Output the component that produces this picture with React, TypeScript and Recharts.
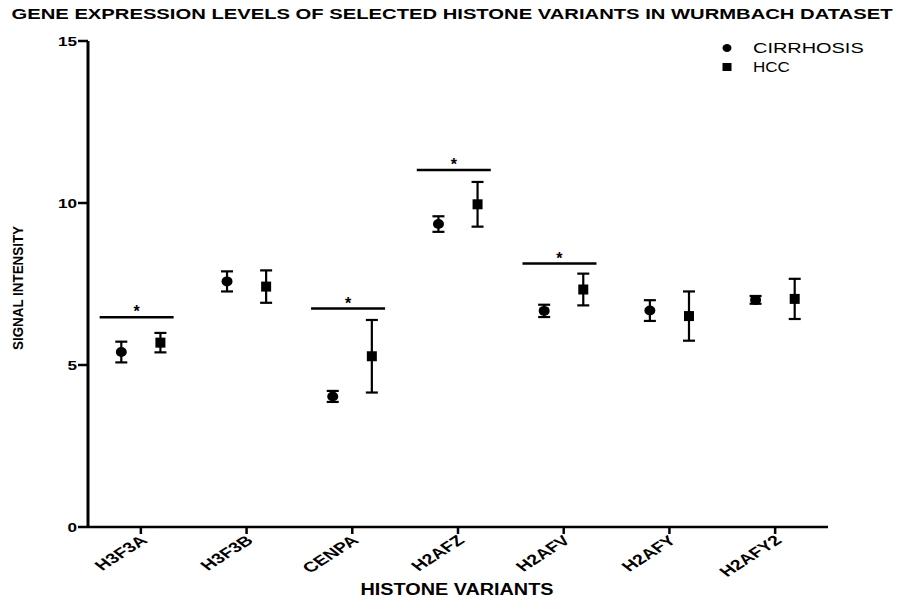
import React from 'react';
import { ComposedChart, Scatter, ErrorBar, XAxis, YAxis, ReferenceLine } from 'recharts';

const CATEGORIES = ['H3F3A', 'H3F3B', 'CENPA', 'H2AFZ', 'H2AFV', 'H2AFY', 'H2AFY2'];
const SERIES_NAMES = ['CIRRHOSIS', 'HCC'];
const CIRRHOSIS_MEAN = [5.4, 7.58, 4.03, 9.35, 6.67, 6.68, 7.01];
const CIRRHOSIS_ERR = [0.32, 0.31, 0.17, 0.24, 0.19, 0.32, 0.12];
const HCC_MEAN = [5.69, 7.42, 5.27, 9.96, 7.33, 6.51, 7.04];
const HCC_ERR = [0.3, 0.5, 1.12, 0.69, 0.49, 0.76, 0.62];
const SIG_CATEGORIES = ['H3F3A', 'CENPA', 'H2AFZ', 'H2AFV'];
const SIG_LEVELS = [6.47, 6.74, 11.02, 8.13];
const Y_TICKS = [0, 5, 10, 15];

const FONT = '"Liberation Sans", Arial, sans-serif';
const STRETCH = 1.32;

const cirrhosisData = CATEGORIES.map((c, i) => ({ x: i + 0.315, y: CIRRHOSIS_MEAN[i], err: CIRRHOSIS_ERR[i] }));
const hccData = CATEGORIES.map((c, i) => ({ x: i + 0.685, y: HCC_MEAN[i], err: HCC_ERR[i] }));
const xTicks = CATEGORIES.map((c, i) => i + 0.5);

const XTick = (props: any) => {
  const { x, y, payload } = props;
  const label = CATEGORIES[Math.floor(payload.value)];
  return (
    <g transform={`translate(${x + 3},${y + 2}) scale(1.4,1) rotate(-42)`}>
      <text x={0} y={0} dy="0.35em" textAnchor="end" fontFamily={FONT} fontWeight="bold" fontSize={14} fill="#000">
        {label}
      </text>
    </g>
  );
};

const YTick = (props: any) => {
  const { x, y, payload } = props;
  return (
    <g transform={`translate(${x + 1},${y}) scale(${STRETCH},1)`}>
      <text x={0} y={0} dy="0.35em" textAnchor="end" fontFamily={FONT} fontWeight="bold" fontSize={13} fill="#000">
        {payload.value}
      </text>
    </g>
  );
};

const Circle = (props: any) => <ellipse cx={props.cx} cy={props.cy} rx={5.5} ry={5} fill="#000" />;
const Square = (props: any) => <rect x={props.cx - 5} y={props.cy - 5} width={10} height={10} fill="#000" />;

export default function App() {
  return (
    <div style={{ position: 'absolute', left: 0, top: 0, width: 898, height: 602, background: '#fff' }}>
      <ComposedChart width={898} height={602} margin={{ top: 41, right: 70, bottom: 25, left: 28 }}>
        <XAxis type="number" dataKey="x" domain={[0, 7]} ticks={xTicks} interval={0} height={50}
          axisLine={{ stroke: '#000', strokeWidth: 2.5 }} tickLine={{ stroke: '#000', strokeWidth: 2.5 }}
          tickSize={7} tick={<XTick />} />
        <YAxis type="number" dataKey="y" domain={[0, 15]} ticks={Y_TICKS} width={60}
          axisLine={{ stroke: '#000', strokeWidth: 3 }} tickLine={{ stroke: '#000', strokeWidth: 2.5 }}
          tickSize={10} tick={<YTick />} />
        {SIG_CATEGORIES.map((c, k) => {
          const i = CATEGORIES.indexOf(c);
          return (
            <ReferenceLine key={c} segment={[{ x: i + 0.11, y: SIG_LEVELS[k] }, { x: i + 0.81, y: SIG_LEVELS[k] }]}
              stroke="#000" strokeWidth={2.5}
              label={{ value: '*', position: 'top', offset: 0, fill: '#000', fontSize: 16, fontFamily: FONT, fontWeight: 'bold' }} />
          );
        })}
        <Scatter name={SERIES_NAMES[0]} data={cirrhosisData} shape={<Circle />} isAnimationActive={false}>
          <ErrorBar dataKey="err" direction="y" width={6} strokeWidth={2.2} stroke="#000" />
        </Scatter>
        <Scatter name={SERIES_NAMES[1]} data={hccData} shape={<Square />} isAnimationActive={false}>
          <ErrorBar dataKey="err" direction="y" width={6} strokeWidth={2.2} stroke="#000" />
        </Scatter>
      </ComposedChart>
      <svg width={898} height={602} style={{ position: 'absolute', left: 0, top: 0, pointerEvents: 'none' }}>
        <text x={452} y={14} dy="0.35em" textAnchor="middle" fontFamily={FONT} fontWeight="bold" fontSize={15}
          textLength={881} lengthAdjust="spacingAndGlyphs" fill="#000">
          GENE EXPRESSION LEVELS OF SELECTED HISTONE VARIANTS IN WURMBACH DATASET
        </text>
        <text x={457} y={589} dy="0.35em" textAnchor="middle" fontFamily={FONT} fontWeight="bold" fontSize={16}
          textLength={193} lengthAdjust="spacingAndGlyphs" fill="#000">
          HISTONE VARIANTS
        </text>
        <g transform="translate(18,288) rotate(-90)">
          <text x={0} y={0} dy="0.35em" textAnchor="middle" fontFamily={FONT} fontWeight="bold" fontSize={15}
            textLength={124} lengthAdjust="spacingAndGlyphs" fill="#000">
            SIGNAL INTENSITY
          </text>
        </g>
        {SERIES_NAMES.map((name, i) => (
          <g key={name} transform={`translate(719,${38 + i * 19})`}>
            {i === 0
              ? <ellipse cx={8} cy={10} rx={4.5} ry={4} fill="#000" />
              : <rect x={3.5} y={6} width={9} height={8} fill="#000" />}
            <text x={34} y={10} dy="0.35em" fontFamily={FONT} fontSize={14} fill="#000"
              textLength={name.length * 12.3} lengthAdjust="spacingAndGlyphs">
              {name}
            </text>
          </g>
        ))}
      </svg>
    </div>
  );
}
